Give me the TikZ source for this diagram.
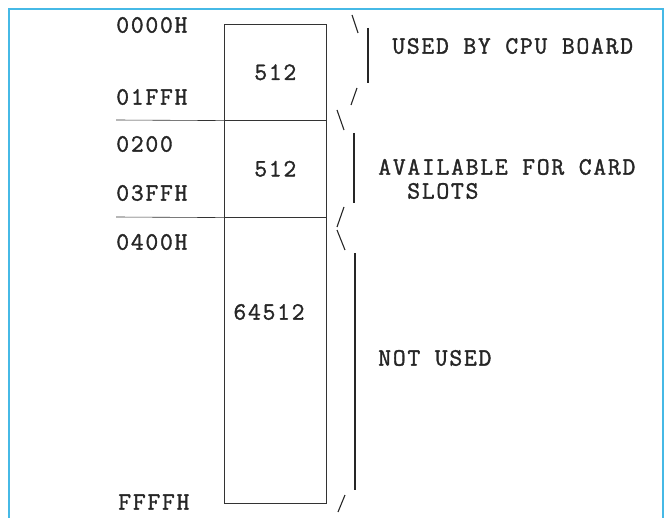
\documentclass[tikz,border=0pt]{standalone}
\usepackage{fontspec}
\newfontfamily\memfont[LetterSpace=7,FakeBold=1.4]{Latin Modern Mono}
\usetikzlibrary{positioning}

\begin{document}
\begin{tikzpicture}[x=1bp,y=-1bp,semithick,
  every node/.style={font=\memfont\fontsize{25}{27}\selectfont,text=black!85,inner sep=0pt}]
  \tikzstyle{region}=[draw=black!80,minimum width=102bp,anchor=north west]
  \tikzstyle{addr}=[anchor=west]
  \tikzstyle{brace}=[draw=black!85,line width=1.1pt]
  \tikzstyle{frame}=[draw={rgb,255:red,70;green,185;blue,230},line width=2.6pt]
\useasboundingbox (0,0) rectangle (669,518);
\draw[frame] (9,518) -- (9,9) -- (663,9) -- (663,518);
% memory map
\node[region,minimum height=96bp] (cpu) at (224,24) {512};
\node[region,minimum height=97bp] (card) at (224,120) {512};
\node[region,minimum height=286bp] (free) at (224,217) {};
\node (size) at (269,312) {64512};
\coordinate (d1) at (116,120);
\coordinate (d2) at (116,217);
\draw[draw=black!80] (d1) -- (cpu.south west);
\draw[draw=black!80] (d2) -- (card.south west);
% addresses
\node[addr] (a0) at (116,25) {0000H};
\node[addr] (a1) at (116,97) {01FFH};
\node[addr] (a2) at (116,144) {0200};
\node[addr] (a3) at (116,193) {03FFH};
\node[addr] (a4) at (116,242) {0400H};
\node[addr] (a5) at (118,502) {FFFFH};
% braces
\draw[brace] (352,15) -- (358,33);
\draw[brace] (368,28) -- (368,83);
\draw[brace] (357,88) -- (351,105);
\draw[brace] (337,110) -- (344,130);
\draw[brace] (354,133) -- (354,203);
\draw[brace] (344,207) -- (337,227);
\draw[brace] (337,230) -- (345,250);
\draw[brace] (355,253) -- (355,490);
\draw[brace] (345,495) -- (338,512);
% uses
\node[addr] (used) at (392,46) {USED BY CPU BOARD};
\node[addr] (avail) at (378,167) {AVAILABLE FOR CARD};
\node[addr] (slots) at (407,191) {SLOTS};
\node[addr] (unused) at (378,358) {NOT USED};
\end{tikzpicture}
\end{document}
